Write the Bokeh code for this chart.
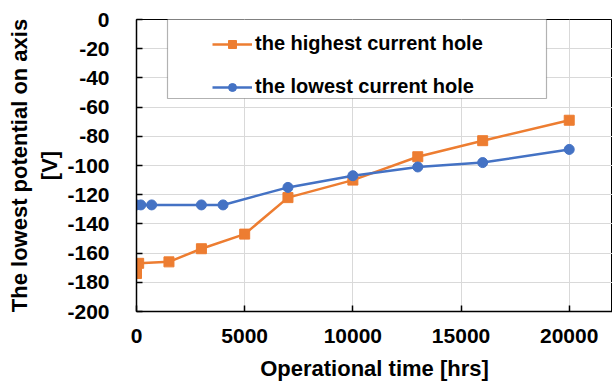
from bokeh.plotting import figure
from bokeh.models import (Range1d, FixedTicker, Legend, LegendItem, BoxAnnotation)
from bokeh.embed import file_html
from bokeh.resources import INLINE

# ---- data ----
hours_high = [0, 100, 1500, 3000, 5000, 7000, 10000, 13000, 16000, 20000]
volts_high = [-174, -167, -166, -157, -147, -122, -110, -94, -83, -69]
hours_low = [0, 200, 700, 3000, 4000, 7000, 10000, 13000, 16000, 20000]
volts_low = [-127, -127, -127, -127, -127, -115, -107, -101, -98, -89]
x_ticks = [0, 5000, 10000, 15000, 20000]
y_ticks = [-200, -180, -160, -140, -120, -100, -80, -60, -40, -20, 0]
label_high = "the highest current hole"
label_low = "the lowest current hole"

ORANGE = "#ED7D31"
BLUE = "#4472C4"
FONT = "Liberation Sans"

p = figure(width=612, height=383, output_backend="svg", toolbar_location=None,
           x_range=Range1d(0, 22000), y_range=Range1d(-200, 0),
           min_border_left=136, min_border_right=0, min_border_top=19,
           min_border_bottom=71)
p.background_fill_color = "white"
p.border_fill_color = "white"
p.outline_line_color = "black"
p.outline_line_width = 1

# grid
p.xgrid.ticker = FixedTicker(ticks=x_ticks)
p.ygrid.ticker = FixedTicker(ticks=y_ticks)
p.grid.grid_line_color = "#d9d9d9"
p.grid.grid_line_width = 1

# axes
for ax, ticks in ((p.xaxis[0], x_ticks), (p.yaxis[0], y_ticks)):
    ax.ticker = FixedTicker(ticks=ticks)
    ax.major_label_overrides = {t: str(t) for t in ticks}
    ax.axis_line_color = "black"
    ax.axis_line_width = 1.5
    ax.major_tick_line_color = "black"
    ax.major_tick_line_width = 1.5
    ax.major_tick_in = 6
    ax.major_tick_out = 0
    ax.minor_tick_line_color = None
    ax.major_label_text_font = FONT
    ax.major_label_text_font_style = "bold"
    ax.major_label_text_font_size = "21px"
    ax.major_label_text_color = "black"
    ax.axis_label_text_font = FONT
    ax.axis_label_text_font_style = "bold"
    ax.axis_label_text_font_size = "22px"
    ax.axis_label_text_color = "black"

p.xaxis.axis_label = "Operational time [hrs]"
p.xaxis.major_label_standoff = 17
p.xaxis.axis_label_standoff = 10
p.yaxis.axis_label = "The lowest potential on axis\n[V]"
p.yaxis.major_label_standoff = 27
p.yaxis.axis_label_standoff = 2

# series
l1 = p.line(hours_high, volts_high, line_color=ORANGE, line_width=2.5)
m1 = p.scatter(hours_high, volts_high, marker="square", size=10,
               fill_color=ORANGE, line_color=ORANGE)
l2 = p.line(hours_low, volts_low, line_color=BLUE, line_width=2.5)
m2 = p.scatter(hours_low, volts_low, marker="circle", size=10,
               fill_color=BLUE, line_color=BLUE)

# legend frame
box = BoxAnnotation(left=31, right=410, top=293, bottom=213,
                    left_units="screen", right_units="screen",
                    top_units="screen", bottom_units="screen",
                    fill_color="white", fill_alpha=1,
                    line_color="black", line_width=1.2)
p.add_layout(box)

legend = Legend(items=[LegendItem(label=label_high, renderers=[l1, m1]),
                       LegendItem(label=label_low, renderers=[l2, m2])],
                location=(76, 213), orientation="vertical",
                padding=10, spacing=20, glyph_width=40, glyph_height=20,
                label_height=20, label_standoff=3,
                label_text_font=FONT, label_text_font_style="bold",
                label_text_font_size="20px", label_text_color="black",
                background_fill_alpha=0, border_line_color=None)
p.add_layout(legend, "center")

open("out.html", "w").write(file_html(p, INLINE))
